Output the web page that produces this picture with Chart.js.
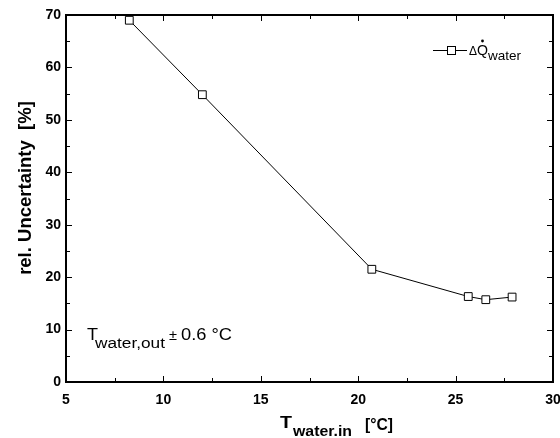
<!DOCTYPE html>
<html>
<head>
<meta charset="utf-8">
<script src="https://cdn.jsdelivr.net/npm/chart.js@4/dist/chart.umd.min.js"></script>
<style>
  html, body { margin: 0; padding: 0; background: #fff; }
  #wrap { width: 560px; height: 438px; }
</style>
</head>
<body>
<div id="wrap"><canvas id="myChart" width="560" height="438"></canvas></div>
<script>
// inlet water temperature [°C] and relative uncertainty of the water heat flow [%]
const tempIn = [8.25, 12.0, 20.7, 25.65, 26.55, 27.9];
const relUncertainty = [69.0, 54.8, 21.5, 16.3, 15.7, 16.2];

const xMajor = [5, 10, 15, 20, 25, 30];
const xMinor = [7.5, 12.5, 17.5, 22.5, 27.5];
const yMajor = [0, 10, 20, 30, 40, 50, 60, 70];
const yMinor = [5, 15, 25, 35, 45, 55, 65];

const FONT = '"Liberation Sans", Arial, sans-serif';

// draws text squeezed or stretched horizontally to a given width
function fitText(ctx, text, x, y, font, width) {
    ctx.font = font;
    const w = ctx.measureText(text).width;
    ctx.save();
    ctx.translate(x, y);
    ctx.scale(width / w, 1);
    ctx.fillText(text, 0, 0);
    ctx.restore();
}

// frame on all four sides plus inward tick marks
const framePlugin = {
    id: 'frame',
    afterDatasetsDraw(chart) {
        const ctx = chart.ctx;
        const xs = chart.scales.x, ys = chart.scales.y;
        const a = chart.chartArea;
        ctx.save();
        ctx.strokeStyle = '#000';
        ctx.lineWidth = 1;
        ctx.beginPath();
        const tickX = (vals, len) => {
            vals.forEach(v => {
                const px = Math.round(xs.getPixelForValue(v)) + 0.5;
                ctx.moveTo(px, a.bottom); ctx.lineTo(px, a.bottom - len);
                ctx.moveTo(px, a.top); ctx.lineTo(px, a.top + len);
            });
        };
        const tickY = (vals, len) => {
            vals.forEach(v => {
                const py = Math.round(ys.getPixelForValue(v)) + 0.5;
                ctx.moveTo(a.left, py); ctx.lineTo(a.left + len, py);
                ctx.moveTo(a.right, py); ctx.lineTo(a.right - len, py);
            });
        };
        tickX(xMajor, 6); tickX(xMinor, 4);
        tickY(yMajor, 6); tickY(yMinor, 4);
        ctx.stroke();
        ctx.lineWidth = 2;
        ctx.strokeRect(a.left, a.top, a.right - a.left, a.bottom - a.top);
        ctx.restore();
    },
    afterDraw(chart) {
        const ctx = chart.ctx;
        ctx.save();
        ctx.fillStyle = '#000';
        ctx.textBaseline = 'alphabetic';
        ctx.textAlign = 'left';

        // y axis title
        ctx.save();
        ctx.translate(31, 188);
        ctx.rotate(-Math.PI / 2);
        ctx.textAlign = 'center';
        ctx.font = 'bold 18.5px ' + FONT;
        ctx.fillText('rel. Uncertainty  [%]', 0, 0);
        ctx.restore();

        // x axis title
        fitText(ctx, 'T', 280, 428, 'bold 17px ' + FONT, 12);
        fitText(ctx, 'water.in', 293, 436, 'bold 15px ' + FONT, 59);
        fitText(ctx, '[°C]', 365, 430, 'bold 17px ' + FONT, 28);

        // outlet temperature accuracy note
        fitText(ctx, 'T', 87, 340, '17px ' + FONT, 11);
        fitText(ctx, 'water,out', 95, 348, '14px ' + FONT, 70);
        fitText(ctx, '±', 169, 340, '15px ' + FONT, 8);
        fitText(ctx, '0.6 °C', 181, 340, '16px ' + FONT, 51);

        // legend
        ctx.strokeStyle = '#000';
        ctx.lineWidth = 1;
        ctx.beginPath();
        ctx.moveTo(433, 50.5); ctx.lineTo(467, 50.5);
        ctx.stroke();
        ctx.fillStyle = '#fff';
        ctx.fillRect(447.5, 46.5, 8, 8);
        ctx.strokeRect(447.5, 46.5, 8, 8);
        ctx.fillStyle = '#000';
        fitText(ctx, 'Δ', 469, 55, '12px ' + FONT, 8);
        fitText(ctx, 'Q', 477, 55, '15px ' + FONT, 11);
        ctx.beginPath();
        ctx.arc(482.5, 41, 1.4, 0, Math.PI * 2);
        ctx.fill();
        fitText(ctx, 'water', 488, 60, '13px ' + FONT, 33);
        ctx.restore();
    }
};

const lineChartContent = {
    type: 'scatter',
    data: {
        datasets: [
            {
                label: 'ΔQ water',
                data: tempIn.map((t, i) => ({ x: t, y: relUncertainty[i] })),
                showLine: true,
                borderColor: '#000',
                borderWidth: 1,
                pointStyle: 'rect',
                pointRadius: 5.5,
                pointBackgroundColor: '#fff',
                pointBorderColor: '#000',
                pointBorderWidth: 1
            }
        ]
    },
    options: {
        responsive: false,
        animation: false,
        layout: { padding: { top: 15, right: 7, left: 0, bottom: 0 } },
        plugins: {
            legend: { display: false },
            tooltip: { enabled: false }
        },
        scales: {
            x: {
                type: 'linear',
                min: 5,
                max: 30,
                afterFit(scale) {
                    scale.height = 56;
                    scale.paddingLeft = 0;
                    scale.paddingRight = 0;
                },
                grid: { display: false, drawTicks: false },
                border: { display: false },
                ticks: {
                    stepSize: 5,
                    padding: 10,
                    color: '#000',
                    font: { family: FONT, size: 14, weight: 'bold' },
                    maxRotation: 0
                }
            },
            y: {
                type: 'linear',
                min: 0,
                max: 70,
                afterFit(scale) {
                    scale.width = 66;
                    scale.paddingTop = 0;
                    scale.paddingBottom = 0;
                },
                grid: { display: false, drawTicks: false },
                border: { display: false },
                ticks: {
                    stepSize: 10,
                    padding: 5,
                    color: '#000',
                    font: { family: FONT, size: 14, weight: 'bold' }
                }
            }
        }
    },
    plugins: [framePlugin]
};

new Chart(document.getElementById('myChart'), lineChartContent);
</script>
</body>
</html>
